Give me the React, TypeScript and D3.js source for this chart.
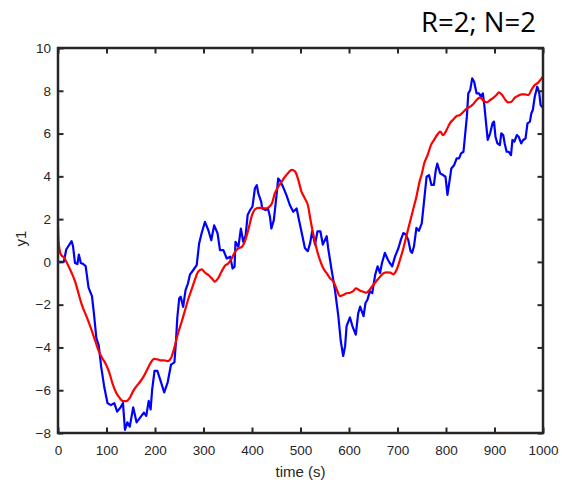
import React, { useEffect, useRef } from 'react';
import * as d3 from 'd3';

// [time, y1]
const blueSeries: [number, number][] = [
  [0, 0], [12, 0], [17, 0.58], [28, 0.97], [31, 0.73], [35, -0.05], [40, -0.1], [43, 0.34], [47, -0.05], [52, -0.1],
  [57, -0.2], [63, -1.2], [70, -1.6], [74, -2.4], [79, -3.55], [84, -3.9], [89, -4.9], [95, -5.8], [102, -6.6], [109, -6.7],
  [116, -6.6], [122, -7.0], [129, -6.8], [134, -6.6], [138, -7.85], [143, -7.5], [148, -7.7], [155, -6.8], [162, -7.5], [172, -7.2],
  [177, -7.05], [182, -7.2], [187, -6.5], [191, -6.9], [194, -6.0], [199, -5.1], [205, -5.1], [212, -5.6], [219, -6.1], [226, -5.65],
  [233, -4.8], [240, -4.7], [243, -3.8], [246, -2.6], [250, -1.7], [253, -1.63], [258, -2.1], [263, -1.32], [268, -1.0], [272, -0.6],
  [279, -0.38], [286, -0.15], [291, 0.86], [296, 1.33], [303, 1.87], [310, 1.48], [316, 1.01], [322, 1.71], [329, 1.33], [334, 0.55],
  [341, 0.55], [348, 0.16], [355, 0.24], [360, -0.31], [364, -0.23], [366, 0.94], [372, 0.7], [377, 1.56], [382, 0.94], [387, 1.25],
  [391, 2.19], [396, 2.42], [401, 2.58], [406, 3.44], [410, 3.59], [413, 3.2], [419, 2.81], [421, 2.5], [428, 2.42], [433, 2.5],
  [437, 2.11], [440, 1.56], [445, 1.95], [451, 3.2], [454, 3.9], [459, 3.75], [464, 3.51], [471, 3.12], [478, 2.66], [485, 2.34],
  [492, 2.5], [497, 1.95], [504, 1.2], [509, 0.65], [515, 0.5], [520, 0.89], [524, 1.43], [530, 0.81], [535, 1.43], [541, 1.43],
  [546, 0.81], [554, 1.2], [557, 0.65], [564, -0.36], [571, -1.3], [578, -2.54], [583, -3.7], [588, -4.4], [592, -3.94], [595, -3.0],
  [602, -2.6], [607, -3.0], [614, -3.4], [619, -2.4], [623, -2.09], [630, -2.54], [634, -1.92], [638, -1.77], [643, -1.38], [648, -1.46],
  [654, -0.6], [659, -0.21], [664, -0.52], [668, -0.05], [674, 0.42], [680, 0.11], [684, -0.05], [689, -0.21], [695, 0.26], [702, 0.65],
  [707, 1.04], [712, 1.35], [717, 1.28], [722, 1.04], [727, 0.5], [730, 0.42], [734, 0.73], [739, 1.59], [744, 1.45], [750, 1.8],
  [755, 2.89], [760, 3.98], [765, 4.06], [770, 3.6], [775, 3.6], [779, 4.3], [782, 4.6], [788, 4.14], [794, 4.06], [799, 3.98],
  [803, 3.13], [808, 3.9], [811, 4.37], [817, 4.53], [822, 4.84], [827, 4.84], [831, 5.07], [836, 5.15], [839, 5.85], [843, 6.79],
  [846, 7.88], [850, 8.04], [854, 8.58], [858, 8.42], [863, 7.88], [868, 7.88], [872, 7.72], [876, 7.88], [879, 7.33], [882, 6.63],
  [886, 5.7], [891, 6.01], [896, 6.48], [899, 6.56], [902, 5.85], [906, 5.54], [911, 5.46], [914, 6.01], [918, 5.93], [921, 5.54],
  [925, 5.15], [929, 5.15], [934, 4.99], [937, 5.7], [941, 5.62], [946, 5.93], [950, 5.85], [955, 5.54], [959, 5.7], [964, 5.77],
  [968, 6.48], [973, 6.56], [976, 6.95], [979, 7.1], [983, 7.72], [988, 8.19], [992, 7.95], [995, 7.33], [1000, 7.2]
];

const redSeries: [number, number][] = [
  [0, 1.65], [1, 1.0], [3, 0.6], [6, 0.34], [13, 0.19], [20, -0.12], [28, -0.51], [35, -0.9], [42, -1.45], [49, -2.0],
  [60, -2.62], [70, -3.24], [77, -3.71], [84, -4.17], [91, -4.49], [99, -4.8], [106, -5.19], [113, -5.73], [120, -6.12], [127, -6.36],
  [134, -6.51], [141, -6.51], [148, -6.36], [155, -6.04], [162, -5.81], [170, -5.58], [177, -5.34], [184, -5.03], [191, -4.72], [198, -4.53],
  [205, -4.56], [212, -4.6], [219, -4.6], [226, -4.64], [233, -4.49], [240, -4.0], [248, -3.3], [255, -2.8], [262, -2.25], [268, -1.78],
  [275, -1.32], [282, -0.85], [289, -0.46], [296, -0.35], [303, -0.5], [310, -0.61], [317, -0.77], [323, -0.92], [330, -0.77], [337, -0.46],
  [344, -0.19], [351, -0.07], [358, 0.16], [365, 0.47], [372, 0.63], [379, 0.7], [386, 1.01], [393, 1.56], [400, 2.19], [406, 2.45],
  [413, 2.53], [420, 2.53], [427, 2.5], [434, 2.55], [441, 2.73], [447, 3.2], [454, 3.51], [461, 3.75], [468, 3.98], [475, 4.17],
  [482, 4.3], [489, 4.22], [495, 3.87], [502, 3.28], [509, 2.97], [516, 2.58], [520, 2.04], [526, 1.33], [533, 0.63], [540, 0.09],
  [547, -0.3], [554, -0.53], [561, -0.77], [568, -0.92], [575, -1.3], [581, -1.6], [588, -1.55], [595, -1.47], [602, -1.44], [609, -1.36],
  [614, -1.24], [623, -1.35], [630, -1.4], [636, -1.44], [643, -1.29], [650, -1.08], [657, -0.88], [664, -0.69], [671, -0.53], [678, -0.49],
  [685, -0.5], [691, -0.58], [698, -0.38], [705, 0.09], [712, 0.63], [718, 1.18], [725, 1.8], [732, 2.43], [739, 3.05], [746, 3.8],
  [750, 4.1], [755, 4.6], [762, 4.99], [769, 5.46], [776, 5.73], [783, 5.98], [788, 6.09], [794, 5.93], [801, 6.16], [808, 6.48],
  [815, 6.66], [822, 6.82], [829, 6.87], [836, 7.02], [843, 7.18], [850, 7.26], [856, 7.37], [863, 7.57], [870, 7.68], [877, 7.54],
  [884, 7.46], [891, 7.57], [898, 7.68], [904, 7.8], [909, 7.93], [915, 7.83], [921, 7.62], [928, 7.46], [935, 7.49], [942, 7.68],
  [949, 7.77], [956, 7.83], [963, 7.83], [970, 7.8], [976, 8.04], [983, 8.27], [990, 8.38], [997, 8.58], [1000, 8.65]
];

const xTicks = [0, 100, 200, 300, 400, 500, 600, 700, 800, 900, 1000];
const yTicks = [-8, -6, -4, -2, 0, 2, 4, 6, 8, 10];
const titleText = 'R=2; N=2';
const xLabel = 'time (s)';
const yLabel = 'y1';

const W = 562, H = 483;
const margin = { top: 48, right: 19, bottom: 50, left: 58 };
const axisColor = '#262626';
const labelFont = '"Liberation Sans", Arial, sans-serif';

export default function App() {
  const ref = useRef<SVGSVGElement>(null);

  useEffect(() => {
    const svg = d3.select(ref.current);
    svg.selectAll('*').remove();

    const w = W - margin.left - margin.right;
    const h = H - margin.top - margin.bottom;

    const x = d3.scaleLinear().domain([0, 1000]).range([0, w]);
    const y = d3.scaleLinear().domain([-8, 10]).range([h, 0]);

    const g = svg.append('g')
      .attr('transform', 'translate(' + margin.left + ',' + margin.top + ')');

    const clipId = 'plot-clip';
    g.append('clipPath').attr('id', clipId)
      .append('rect').attr('x', 0).attr('y', 0).attr('width', w).attr('height', h);

    const line = d3.line<[number, number]>()
      .x(d => x(d[0]))
      .y(d => y(d[1]));

    g.append('path')
      .datum(blueSeries)
      .attr('clip-path', 'url(#' + clipId + ')')
      .attr('d', line)
      .attr('fill', 'none')
      .attr('stroke', '#0000ff')
      .attr('stroke-width', 2.2)
      .attr('stroke-linejoin', 'round');

    g.append('path')
      .datum(redSeries)
      .attr('clip-path', 'url(#' + clipId + ')')
      .attr('d', line.curve(d3.curveMonotoneX))
      .attr('fill', 'none')
      .attr('stroke', '#ff0000')
      .attr('stroke-width', 2.2)
      .attr('stroke-linejoin', 'round');

    const tickLen = 5.5;
    const styleAxis = (sel: any) => {
      sel.select('.domain').remove();
      sel.selectAll('line').attr('stroke', axisColor).attr('stroke-width', 2);
      sel.selectAll('text')
        .attr('fill', axisColor)
        .style('font', '13.5px ' + labelFont);
    };

    g.append('g')
      .attr('transform', 'translate(0,' + h + ')')
      .call(d3.axisBottom(x).tickValues(xTicks).tickSize(-tickLen).tickPadding(12).tickFormat(d3.format('d')))
      .call(styleAxis);

    g.append('g')
      .call(d3.axisTop(x).tickValues(xTicks).tickSize(-tickLen).tickFormat(() => ''))
      .call(styleAxis);

    g.append('g')
      .call(d3.axisLeft(y).tickValues(yTicks).tickSize(-tickLen).tickPadding(7).tickFormat(d3.format('d')))
      .call(styleAxis);

    g.append('g')
      .attr('transform', 'translate(' + w + ',0)')
      .call(d3.axisRight(y).tickValues(yTicks).tickSize(-tickLen).tickFormat(() => ''))
      .call(styleAxis);

    g.append('rect')
      .attr('x', 0).attr('y', 0).attr('width', w).attr('height', h)
      .attr('fill', 'none')
      .attr('stroke', axisColor)
      .attr('stroke-width', 2.5);

    g.append('text')
      .attr('x', w / 2)
      .attr('y', h + 44)
      .attr('text-anchor', 'middle')
      .attr('fill', axisColor)
      .style('font', '15px ' + labelFont)
      .text(xLabel);

    g.append('text')
      .attr('transform', 'translate(' + (-32) + ',' + (h / 2 - 2) + ') rotate(-90)')
      .attr('text-anchor', 'middle')
      .attr('fill', axisColor)
      .style('font', '15px ' + labelFont)
      .text(yLabel);

    svg.append('text')
      .attr('x', 536)
      .attr('y', 32)
      .attr('text-anchor', 'end')
      .attr('fill', '#000')
      .style('font', '27.5px "Open Sans", sans-serif')
      .text(titleText);
  }, []);

  return (
    <svg ref={ref} width={W} height={H}
      style={{ position: 'absolute', left: 0, top: 0, background: '#fff' }} />
  );
}
